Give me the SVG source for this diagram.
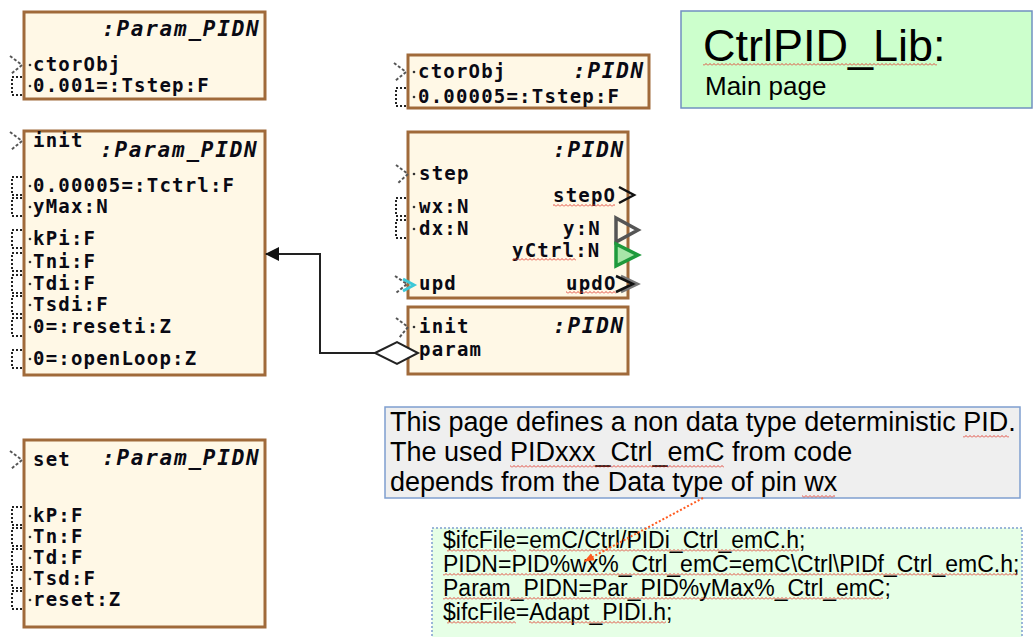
<svg xmlns="http://www.w3.org/2000/svg" width="1034" height="637" viewBox="0 0 1034 637">
<defs>
<style>
.box{fill:#fff8e6;stroke:#a06a3a;stroke-width:3}
.mono{font-family:"DejaVu Sans Mono","Liberation Mono",monospace;font-weight:bold;font-size:19px;letter-spacing:1.2px;fill:#0a0a14}
.ttl{font-family:"DejaVu Sans Mono","Liberation Mono",monospace;font-weight:bold;font-style:italic;font-size:21px;letter-spacing:1.76px;fill:#0a0a14}
.evt{fill:none;stroke:#555;stroke-width:2;stroke-dasharray:3 2}
.dat{fill:none;stroke:#222;stroke-width:2;stroke-dasharray:2 2}
.dot{fill:#333}
.sans{font-family:"Liberation Sans",Arial,sans-serif;fill:#000}
.wave{fill:url(#wave)}
.conn{fill:none;stroke:#222;stroke-width:2}
</style>
<pattern id="wave" x="0" y="0" width="4" height="3" patternUnits="userSpaceOnUse"><path d="M0 2.5 L2 0.5 L4 2.5" fill="none" stroke="#e0392b" stroke-width="0.9"/></pattern>
<marker id="arr" markerWidth="14" markerHeight="14" refX="13" refY="7" orient="auto" markerUnits="userSpaceOnUse"><path d="M0,0 L14,7 L0,14 Z" fill="#111"/></marker>
<marker id="rarr" markerWidth="10" markerHeight="10" refX="9" refY="5" orient="auto" markerUnits="userSpaceOnUse"><path d="M0,1 L10,5 L0,9 Z" fill="#ff5a1e"/></marker>
</defs>

<g id="title-box">
<rect x="681" y="11" width="351" height="97" fill="#ccffcc" stroke="#7090c0" stroke-width="1.5"/>
<text class="sans" x="703" y="61" font-size="45">CtrlPID_Lib:</text>
<text class="sans" x="705" y="95" font-size="26">Main page</text>
<rect class="wave" x="703" y="63" width="234" height="3"/>
</g>

<g id="param-ctor">
<rect class="box" x="24" y="12" width="241" height="87"/>
<text class="ttl" x="102" y="36">:Param_PIDN</text>
<path class="evt" d="M10,56 L22,65 L11,74"/>
<path class="dat" d="M22,77 H12 V95 H22"/>
<circle class="dot" cx="30" cy="65" r="1.3"/><circle class="dot" cx="30" cy="86" r="1.3"/>
<text class="mono" x="33" y="71">ctorObj</text>
<text class="mono" x="33" y="92">0.001=:Tstep:F</text>
</g>

<g id="param-init">
<rect class="box" x="24" y="131" width="241" height="244"/>
<text class="ttl" x="100" y="157">:Param_PIDN</text>
<path class="evt" d="M10,132 L22,141 L11,150"/>
<path class="dat" d="M22,177 H12 V195 H22"/>
<path class="dat" d="M22,198 H12 V216 H22"/>
<path class="dat" d="M22,230 H12 V248 H22"/>
<path class="dat" d="M22,253 H12 V271 H22"/>
<path class="dat" d="M22,275 H12 V293 H22"/>
<path class="dat" d="M22,296 H12 V314 H22"/>
<path class="dat" d="M22,318 H12 V336 H22"/>
<path class="dat" d="M22,350 H12 V368 H22"/>
<circle class="dot" cx="30" cy="186" r="1.3"/><circle class="dot" cx="30" cy="207" r="1.3"/>
<circle class="dot" cx="30" cy="239" r="1.3"/><circle class="dot" cx="30" cy="262" r="1.3"/>
<circle class="dot" cx="30" cy="284" r="1.3"/><circle class="dot" cx="30" cy="305" r="1.3"/>
<circle class="dot" cx="30" cy="327" r="1.3"/><circle class="dot" cx="30" cy="359" r="1.3"/>
<text class="mono" x="33" y="147">init</text>
<text class="mono" x="33" y="192">0.00005=:Tctrl:F</text>
<text class="mono" x="33" y="213">yMax:N</text>
<text class="mono" x="33" y="245">kPi:F</text>
<text class="mono" x="33" y="268">Tni:F</text>
<text class="mono" x="33" y="290">Tdi:F</text>
<text class="mono" x="33" y="311">Tsdi:F</text>
<text class="mono" x="33" y="333">0=:reseti:Z</text>
<text class="mono" x="33" y="365">0=:openLoop:Z</text>
</g>

<g id="param-set">
<rect class="box" x="24" y="440" width="241" height="187"/>
<text class="ttl" x="102" y="465">:Param_PIDN</text>
<path class="evt" d="M10,451 L22,460 L11,469"/>
<path class="dat" d="M22,507 H12 V525 H22"/>
<path class="dat" d="M22,528 H12 V546 H22"/>
<path class="dat" d="M22,549 H12 V567 H22"/>
<path class="dat" d="M22,570 H12 V588 H22"/>
<path class="dat" d="M22,591 H12 V609 H22"/>
<circle class="dot" cx="30" cy="516" r="1.3"/><circle class="dot" cx="30" cy="537" r="1.3"/>
<circle class="dot" cx="30" cy="558" r="1.3"/><circle class="dot" cx="30" cy="579" r="1.3"/>
<circle class="dot" cx="30" cy="600" r="1.3"/>
<text class="mono" x="33" y="466">set</text>
<text class="mono" x="33" y="522">kP:F</text>
<text class="mono" x="33" y="543">Tn:F</text>
<text class="mono" x="33" y="564">Td:F</text>
<text class="mono" x="33" y="585">Tsd:F</text>
<text class="mono" x="33" y="606">reset:Z</text>
</g>

<g id="pidn-ctor">
<rect class="box" x="408" y="55" width="241" height="53"/>
<text class="ttl" x="573" y="78">:PIDN</text>
<path class="evt" d="M394,63 L406,72 L395,81"/>
<path class="dat" d="M406,88 H396 V106 H406"/>
<circle class="dot" cx="414" cy="72" r="1.3"/><circle class="dot" cx="414" cy="97" r="1.3"/>
<text class="mono" x="418" y="78">ctorObj</text>
<text class="mono" x="418" y="103">0.00005=:Tstep:F</text>
</g>

<g id="pidn-step">
<rect class="box" x="408" y="132" width="220" height="166"/>
<text class="ttl" x="553" y="157">:PIDN</text>
<path class="evt" d="M396,165 L408,174 L397,184"/>
<path class="dat" d="M406,198 H396 V216 H406"/>
<path class="dat" d="M406,220 H396 V238 H406"/>
<path class="evt" d="M395,276 L407,284 L396,293"/>
<path d="M403,279 L414,285 L403,291" fill="none" stroke="#3cc8d8" stroke-width="3"/>
<circle class="dot" cx="414" cy="174" r="1.3"/><circle class="dot" cx="414" cy="207" r="1.3"/>
<circle class="dot" cx="414" cy="229" r="1.3"/>
<text class="mono" x="419" y="180">step</text>
<text class="mono" x="419" y="213">wx:N</text>
<text class="mono" x="419" y="235">dx:N</text>
<text class="mono" x="419" y="290">upd</text>
<text class="mono" x="553" y="202">stepO</text>
<text class="mono" x="563" y="235">y:N</text>
<text class="mono" x="512" y="257">yCtrl:N</text>
<text class="mono" x="566" y="290">updO</text>
<polyline points="619,187 634,195 619,203" fill="none" stroke="#111" stroke-width="2.5"/>
<polygon points="616,218 638,230 616,242" fill="none" stroke="#555" stroke-width="3.5"/>
<polygon points="616,244 638,255 616,266" fill="#a8e6a8" stroke="#1e9a3c" stroke-width="3.5"/>
<polyline points="621,276 638,284 621,292" fill="none" stroke="#777" stroke-width="2.5"/>
<polyline points="616,276 633,284 616,292" fill="none" stroke="#111" stroke-width="2.5"/>
<rect class="wave" x="553" y="204" width="62" height="3"/>
<rect class="wave" x="512" y="258" width="64" height="3"/>
<rect class="wave" x="566" y="291" width="50" height="3"/>
</g>

<g id="pidn-init">
<rect class="box" x="408" y="307" width="220" height="67"/>
<text class="ttl" x="553" y="333">:PIDN</text>
<path class="evt" d="M396,318 L408,327 L399,338"/>
<circle class="dot" cx="414" cy="327" r="1.3"/>
<text class="mono" x="419" y="333">init</text>
<text class="mono" x="419" y="356">param</text>
</g>

<g id="description">
<rect x="385" y="407" width="635" height="91" fill="#efefef" stroke="#7f9fcf" stroke-width="1.5"/>
<text class="sans" x="390" y="431" font-size="27">This page defines a non data type deterministic PID.</text>
<text class="sans" x="390" y="461" font-size="27">The used PIDxxx_Ctrl_emC from code</text>
<text class="sans" x="390" y="491" font-size="27">depends from the Data type of pin wx</text>
<rect class="wave" x="963" y="435" width="46" height="3"/>
<rect class="wave" x="510" y="465" width="214" height="3"/>
<rect class="wave" x="802" y="495" width="33" height="3"/>
</g>

<g id="code">
<rect x="432" y="528" width="590" height="120" fill="#e6ffe6" stroke="#7f9fcf" stroke-width="1.5" stroke-dasharray="2 2"/>
<text class="sans" x="443" y="548" font-size="23">$ifcFile=emC/Ctrl/PIDi_Ctrl_emC.h;</text>
<text class="sans" x="443" y="572" font-size="23">PIDN=PID%wx%_Ctrl_emC=emC\Ctrl\PIDf_Ctrl_emC.h;</text>
<text class="sans" x="443" y="596" font-size="23">Param_PIDN=Par_PID%yMax%_Ctrl_emC;</text>
<text class="sans" x="443" y="620" font-size="23">$ifcFile=Adapt_PIDI.h;</text>
<rect class="wave" x="447" y="549" width="69" height="3"/>
<rect class="wave" x="529" y="549" width="270" height="3"/>
<rect class="wave" x="443" y="573" width="575" height="3"/>
<rect class="wave" x="443" y="597" width="440" height="3"/>
<rect class="wave" x="447" y="621" width="69" height="3"/>
<rect class="wave" x="529" y="621" width="137" height="3"/>
</g>

<g id="connectors">
<path class="conn" d="M375,353 H320 V254 H266" marker-end="url(#arr)"/>
<polygon points="375,353 397,342 418,353 397,364" fill="#fff" stroke="#222" stroke-width="2"/>
<path d="M703,498 L585,561" fill="none" stroke="#ff5a1e" stroke-width="2" stroke-dasharray="2 2" marker-end="url(#rarr)"/>
</g>
</svg>
